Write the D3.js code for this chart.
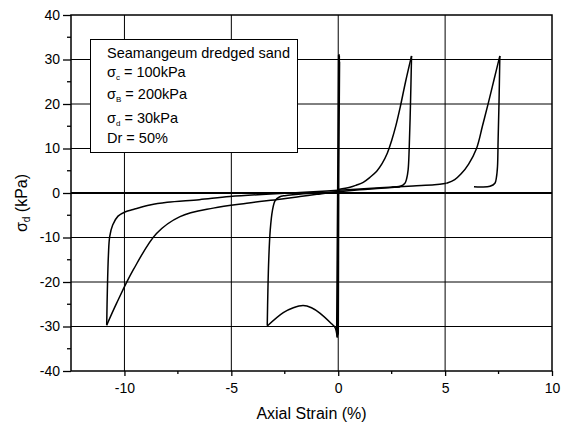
<!DOCTYPE html>
<html>
<head>
<meta charset="utf-8">
<script src="https://d3js.org/d3.v7.min.js"></script>
<style>
  body { margin: 0; background: #fff; }
  svg { display: block; font-family: "Liberation Sans", Arial, sans-serif; }
</style>
</head>
<body>
<svg></svg>
<script>
'use strict';

// axis ticks and grid
var xTicks = [-10, -5, 0, 5, 10];
var xMinorTicks = [-7.5, -2.5, 2.5, 7.5];
var yTicks = [-40, -30, -20, -10, 0, 10, 20, 30, 40];
var yMinorTicks = [-35, -25, -15, -5, 5, 15, 25, 35];
var xGrid = [-10, -5, 0, 5];
var yGrid = [-30, -20, -10, 10, 20, 30];

// [strain %, deviator stress kPa]
// early cycles with almost no strain
var smallCycles = [[0.0, -31.8], [0.04, 31.2], [-0.05, -32.5], [0.05, 30.8], [-0.06, -31.5],
  [0.02, 31.0], [-0.07, -30.8], [0.03, 30.5], [-0.03, -32.0], [0.06, 29.5], [-0.04, -31.0]];
// first extension excursion
var ext1Load = [[0.0, 0.3], [-1.0, 0.0], [-2.0, -0.35], [-2.5, -0.6], [-2.75, -0.9], [-2.95, -1.7],
  [-3.08, -4.0], [-3.18, -8.3], [-3.25, -15.0], [-3.29, -22.0], [-3.32, -29.8]];
var ext1Return = [[-3.32, -29.9], [-2.57, -26.9], [-2.1, -25.8], [-1.64, -25.3], [-1.25, -25.8],
  [-0.86, -27.0], [-0.31, -29.4], [-0.15, -30.2], [-0.05, -32.3]];
// first compression loop
var comp1Load = [[0.0, 0.8], [0.55, 1.3], [0.86, 1.8], [1.17, 2.4], [1.48, 3.5], [1.8, 4.9],
  [2.05, 6.6], [2.3, 9.0], [2.5, 11.8], [2.7, 15.2], [2.9, 19.3], [3.15, 25.0], [3.43, 30.8]];
var comp1Unload = [[3.43, 30.8], [3.38, 20.0], [3.32, 10.0], [3.27, 5.2], [3.2, 3.2],
  [3.12, 2.2], [2.9, 1.5], [2.5, 1.3]];
// second extension loop
var ext2Load = [[2.9, 1.4], [2.0, 1.05], [1.0, 0.75], [0.0, 0.3], [-1.0, -0.3], [-1.79, -0.8],
  [-2.73, -1.4], [-4.28, -2.3], [-5.85, -3.4], [-7.4, -5.3], [-8.5, -9.1], [-9.59, -17.3],
  [-10.37, -24.8], [-10.83, -29.7]];
var ext2Unload = [[-10.83, -29.7], [-10.8, -22.0], [-10.75, -14.0], [-10.69, -9.8], [-10.55, -7.2],
  [-10.3, -5.2], [-9.95, -4.2], [-9.59, -3.7], [-8.81, -2.7], [-8.0, -2.1], [-6.5, -1.5],
  [-5.07, -0.8], [-2.73, -0.1], [-1.79, 0.1], [0.0, 0.6], [1.95, 1.2], [3.5, 1.6], [4.5, 1.85],
  [5.07, 2.2]];
// second compression loop
var comp2Load = [[5.07, 2.2], [5.45, 3.0], [5.75, 4.3], [6.1, 6.5], [6.47, 10.0], [6.75, 15.1],
  [7.02, 20.2], [7.29, 25.5], [7.56, 30.8]];
var comp2Unload = [[7.56, 30.8], [7.52, 20.0], [7.48, 12.0], [7.45, 5.9], [7.4, 3.5], [7.33, 2.2],
  [7.1, 1.5], [6.7, 1.35], [6.35, 1.4]];

// legend text: symbol, subscript, rest of the line
var legendRows = [
  ['', '', 'Seamangeum dredged sand'],
  ['\u03c3', 'c', ' = 100kPa'],
  ['\u03c3', 'B', ' = 200kPa'],
  ['\u03c3', 'd', ' = 30kPa'],
  ['', '', 'Dr = 50%']
];
var legendBaselines = [58, 77, 99, 122.5, 143];

var canvasWidth = 566;
var canvasHeight = 432;
var margin = { top: 15, right: 14, bottom: 61, left: 71 };
var width = canvasWidth - margin.left - margin.right;
var height = canvasHeight - margin.top - margin.bottom;

var svg = d3.select('svg')
  .attr('width', canvasWidth)
  .attr('height', canvasHeight);

var xScale = d3.scaleLinear().domain([-12.5, 10]).range([0, width]);
var yScale = d3.scaleLinear().domain([-40, 40]).range([height, 0]);

var plot = svg.append('g')
  .attr('transform', 'translate(' + margin.left + ',' + margin.top + ')');

// grid
plot.selectAll('.vgrid')
  .data(xGrid)
  .enter()
  .append('line')
  .attr('class', 'vgrid')
  .attr('x1', function(d) { return xScale(d); })
  .attr('x2', function(d) { return xScale(d); })
  .attr('y1', 0)
  .attr('y2', height)
  .attr('stroke', '#000')
  .attr('stroke-width', 1);

plot.selectAll('.hgrid')
  .data(yGrid)
  .enter()
  .append('line')
  .attr('class', 'hgrid')
  .attr('x1', 0)
  .attr('x2', width)
  .attr('y1', function(d) { return yScale(d); })
  .attr('y2', function(d) { return yScale(d); })
  .attr('stroke', '#000')
  .attr('stroke-width', 1);

// zero stress line
plot.append('line')
  .attr('x1', 0)
  .attr('x2', width)
  .attr('y1', yScale(0))
  .attr('y2', yScale(0))
  .attr('stroke', '#000')
  .attr('stroke-width', 2);

// axes
var xAxis = plot.append('g')
  .attr('transform', 'translate(0,' + height + ')')
  .call(d3.axisBottom(xScale)
    .tickValues(xTicks)
    .tickSize(5)
    .tickSizeOuter(0)
    .tickPadding(7)
    .tickFormat(function(d) { return String(d); }));

var yAxis = plot.append('g')
  .call(d3.axisLeft(yScale)
    .tickValues(yTicks)
    .tickSize(8)
    .tickSizeOuter(0)
    .tickPadding(3)
    .tickFormat(function(d) { return String(d); }));

[xAxis, yAxis].forEach(function(ax) {
  ax.attr('font-size', 14).attr('font-family', null);
  ax.select('.domain').remove();
  ax.selectAll('.tick line').attr('stroke-width', 1.3);
  ax.selectAll('.tick text').attr('fill', '#000');
});

plot.selectAll('.xminor')
  .data(xMinorTicks)
  .enter()
  .append('line')
  .attr('x1', function(d) { return xScale(d); })
  .attr('x2', function(d) { return xScale(d); })
  .attr('y1', height)
  .attr('y2', height + 3)
  .attr('stroke', '#000')
  .attr('stroke-width', 1.3);

plot.selectAll('.yminor')
  .data(yMinorTicks)
  .enter()
  .append('line')
  .attr('x1', -4)
  .attr('x2', 0)
  .attr('y1', function(d) { return yScale(d); })
  .attr('y2', function(d) { return yScale(d); })
  .attr('stroke', '#000')
  .attr('stroke-width', 1.3);

// frame
plot.append('rect')
  .attr('x', 0)
  .attr('y', 0)
  .attr('width', width)
  .attr('height', height)
  .attr('fill', 'none')
  .attr('stroke', '#000')
  .attr('stroke-width', 1.5);

// curves
var smooth = d3.line()
  .x(function(d) { return xScale(d[0]); })
  .y(function(d) { return yScale(d[1]); })
  .curve(d3.curveCatmullRom.alpha(0.5));

var straight = d3.line()
  .x(function(d) { return xScale(d[0]); })
  .y(function(d) { return yScale(d[1]); });

plot.append('path')
  .attr('d', straight(smallCycles))
  .attr('fill', 'none')
  .attr('stroke', '#000')
  .attr('stroke-width', 1.6);

[ext1Load, ext1Return, comp1Load, comp1Unload, ext2Load, ext2Unload, comp2Load, comp2Unload]
  .forEach(function(seg) {
    plot.append('path')
      .attr('d', smooth(seg))
      .attr('fill', 'none')
      .attr('stroke', '#000')
      .attr('stroke-width', 1.5)
      .attr('stroke-linejoin', 'round');
  });

// legend box
svg.append('rect')
  .attr('x', 90.5)
  .attr('y', 39.5)
  .attr('width', 207)
  .attr('height', 113)
  .attr('fill', '#fff')
  .attr('stroke', '#000')
  .attr('stroke-width', 1);

var legendText = svg.append('g')
  .attr('font-size', 14.5)
  .attr('fill', '#000');

legendRows.forEach(function(row, i) {
  var t = legendText.append('text')
    .attr('x', 107)
    .attr('y', legendBaselines[i]);
  if (row[0]) {
    t.append('tspan').text(row[0]);
    t.append('tspan')
      .attr('font-size', 8)
      .attr('dy', 3)
      .text(row[1]);
    t.append('tspan')
      .attr('dy', -3)
      .text(row[2]);
  } else {
    t.text(row[2]);
  }
});

// axis titles
svg.append('text')
  .attr('x', margin.left + width / 2)
  .attr('y', 419)
  .attr('text-anchor', 'middle')
  .attr('font-size', 16)
  .text('Axial Strain (%)');

var yTitle = svg.append('text')
  .attr('transform', 'translate(27,203) rotate(-90)')
  .attr('text-anchor', 'middle')
  .attr('font-size', 16);
yTitle.append('tspan').text('\u03c3');
yTitle.append('tspan').attr('font-size', 10).attr('dy', 3).text('d');
yTitle.append('tspan').attr('dy', -3).text(' (kPa)');
</script>
</body>
</html>
